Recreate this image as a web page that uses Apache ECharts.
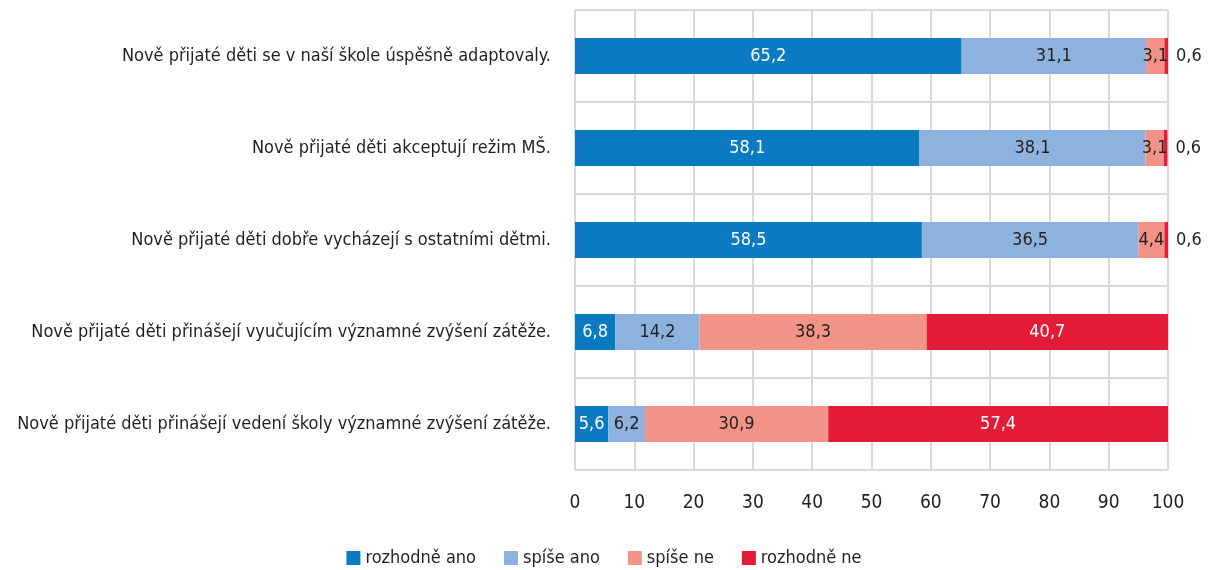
<!DOCTYPE html>
<html>
<head>
<meta charset="utf-8">
<script src="https://cdn.jsdelivr.net/npm/echarts@6/dist/echarts.min.js"></script>
<style>
  html, body { margin: 0; padding: 0; background: #fff; }
  #chart { width: 1208px; height: 570px; }
</style>
</head>
<body>
<div id="chart"></div>
<script>
const categories = [
  'Nově přijaté děti se v naší škole úspěšně adaptovaly.',
  'Nově přijaté děti akceptují režim MŠ.',
  'Nově přijaté děti dobře vycházejí s ostatními dětmi.',
  'Nově přijaté děti přinášejí vyučujícím významné zvýšení zátěže.',
  'Nově přijaté děti přinášejí vedení školy významné zvýšení zátěže.'
]
const rozhodneAno = [65.2, 58.1, 58.5, 6.8, 5.6]
const spiseAno = [31.1, 38.1, 36.5, 14.2, 6.2]
const spiseNe = [3.1, 3.1, 4.4, 38.3, 30.9]
const rozhodneNe = [0.6, 0.6, 0.6, 40.7, 57.4]
const seriesNames = ['rozhodně ano', 'spíše ano', 'spíše ne', 'rozhodně ne']
const colors = ['#0a7bc2', '#8db2dd', '#f19487', '#e31b37']
const labelColors = ['#fff', '#231f20', '#231f20', '#fff']

const font = "'DejaVu Sans Condensed', 'Liberation Sans Narrow', sans-serif"
const fmt = p => String(p.value).replace('.', ',')

function makeSeries(name, values, i) {
  return {
    name: name,
    type: 'bar',
    stack: 'total',
    barWidth: 36,
    itemStyle: { color: colors[i] },
    label: {
      show: true,
      position: 'inside',
      color: labelColors[i],
      fontFamily: font,
      fontSize: 18,
      formatter: fmt
    },
    data: values.map(v => {
      // tiny red slices get their label outside on the right
      if (i == 3 && v < 2) {
        return { value: v, label: { position: 'right', color: '#231f20', distance: 8 } }
      }
      return v
    })
  }
}

const chart = echarts.init(document.getElementById('chart'))
chart.setOption({
  animation: false,
  textStyle: { fontFamily: font },
  grid: { left: 575, right: 40, top: 10, bottom: 100, containLabel: false, outerBoundsMode: 'none' },
  legend: {
    bottom: -2,
    left: 'center',
    itemWidth: 14,
    itemHeight: 14,
    itemGap: 28,
    icon: 'rect',
    textStyle: { fontFamily: font, fontSize: 18, color: '#231f20' },
    data: seriesNames
  },
  xAxis: {
    type: 'value',
    min: 0,
    max: 100,
    interval: 10,
    axisLine: { show: false },
    axisTick: { show: false },
    splitLine: { show: true, lineStyle: { color: '#d9d9d9', width: 2 } },
    axisLabel: { color: '#231f20', fontSize: 19, fontFamily: font, margin: 24 }
  },
  yAxis: {
    type: 'category',
    inverse: true,
    data: categories,
    axisLine: { show: false },
    axisTick: { show: false },
    splitLine: { show: true, lineStyle: { color: '#d9d9d9', width: 2 } },
    axisLabel: { color: '#231f20', fontSize: 18, fontFamily: font, margin: 24 }
  },
  series: [
    makeSeries(seriesNames[0], rozhodneAno, 0),
    makeSeries(seriesNames[1], spiseAno, 1),
    makeSeries(seriesNames[2], spiseNe, 2),
    makeSeries(seriesNames[3], rozhodneNe, 3)
  ]
})
</script>
</body>
</html>
